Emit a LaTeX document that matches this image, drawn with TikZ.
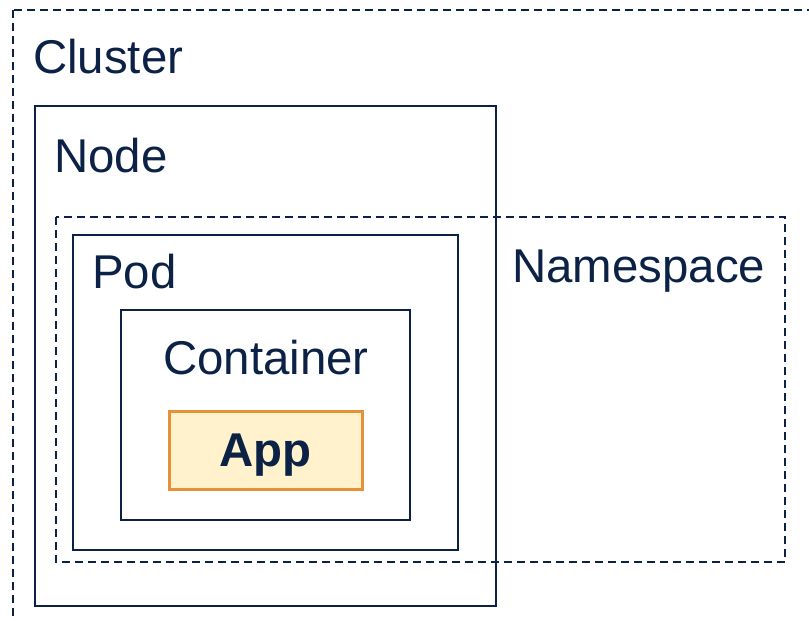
\documentclass[tikz,border=0pt]{standalone}
\usepackage{fontspec}
\setmainfont{Liberation Sans}
\definecolor{navy}{HTML}{0B2145}
\definecolor{apporange}{HTML}{E69138}
\definecolor{appfill}{HTML}{FFF2CC}
\begin{document}
\begin{tikzpicture}[x=1pt,y=-1pt,
  solidbox/.style={draw=navy,line width=1.8pt},
  dashbox/.style={draw=navy,line width=2pt,dash pattern=on 8pt off 5pt},
  lbl/.style={anchor=base west,inner sep=0pt,text=navy,font=\fontsize{47.4}{50}\selectfont}]
\useasboundingbox (0,0) rectangle (809,621);
\clip (0,0) rectangle (809,621);
\draw[dashbox] (13,10) rectangle (840,650);
\node[lbl] (cluster) at (33,73) {Cluster};
\draw[solidbox] (35,106) rectangle (496,606);
\node[lbl] (node) at (54,172) {Node};
\draw[dashbox] (56,217) rectangle (785,562);
\node[lbl] (ns) at (512,282) {Namespace};
\draw[solidbox] (73,235) rectangle (458,550);
\node[lbl] (pod) at (92,288) {Pod};
\draw[solidbox] (121,310) rectangle (410,520);
\node[lbl,anchor=base] (container) at (266,374) {Container};
\node[draw=apporange,fill=appfill,line width=3pt,minimum width=193pt,minimum height=78pt,inner sep=0pt,text height=34pt,text depth=2pt,text=navy,font=\fontsize{47.4}{50}\selectfont\bfseries] (app) at (265.5,450) {App};
\end{tikzpicture}
\end{document}
